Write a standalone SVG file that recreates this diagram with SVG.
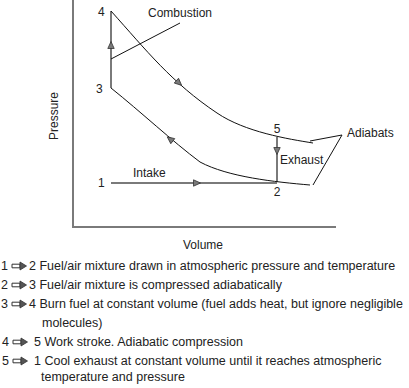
<svg xmlns="http://www.w3.org/2000/svg" xmlns:xlink="http://www.w3.org/1999/xlink" width="409" height="388" viewBox="0 0 409 388">
<style>
text{font-family:"Liberation Sans",Arial,sans-serif;font-size:12px;fill:#222}
#legend text{font-size:12.5px}
.axis{stroke:#7a7a7a;stroke-width:2;fill:none}
.thick{stroke:#7a7a7a;stroke-width:2;fill:none}
.thin{stroke:#111;stroke-width:1;fill:none}
.head{fill:#7a7a7a;stroke:#333;stroke-width:0.8}
.dbl{fill:#fff;stroke:#333;stroke-width:1}
.dblh{fill:#555;stroke:#333;stroke-width:0.8}
</style>
<defs>
<polygon id="tri" class="head" points="-3.5,-3.2 3.5,0 -3.5,3.2"/>
<g id="darr">
<path class="dbl" d="M0,-1.8 H8 V1.8 H0 Z"/>
<path class="dblh" d="M8,-4 L14.5,0 L8,4 Z"/>
</g>
</defs>
<rect width="409" height="388" fill="#fff"/>
<g id="axes">
<path class="axis" d="M73,0 V227 H336"/>
<text transform="translate(58,116) rotate(-90)" text-anchor="middle">Pressure</text>
<text x="203" y="249" text-anchor="middle">Volume</text>
</g>
<g id="connectors">
<path class="thick" d="M111,11 V88"/>
<path class="thick" d="M277,137 V182"/>
<path class="thick" d="M111,183 H277"/>
<path class="thin" d="M111,11 C146,50 172,83 217,113 C245,132 288,139 313,143"/>
<path class="thin" d="M111,88 C141,112 172,141 200,162 C228,177 275,182 310,185"/>
<path class="thin" d="M111,59 L180,23"/>
<path class="thin" d="M310,141 L342,135 L313,185"/>
<use xlink:href="#tri" transform="translate(111,45) rotate(-90)"/>
<use xlink:href="#tri" transform="translate(179,83) rotate(42)"/>
<use xlink:href="#tri" transform="translate(170,139) rotate(218)"/>
<use xlink:href="#tri" transform="translate(197,183)"/>
<use xlink:href="#tri" transform="translate(277,151) rotate(90)"/>
</g>
<g id="n4"><text x="98" y="16">4</text></g>
<g id="n3"><text x="96" y="93">3</text></g>
<g id="n5"><text x="277" y="133" text-anchor="middle">5</text></g>
<g id="n2"><text x="277" y="196" text-anchor="middle">2</text></g>
<g id="n1"><text x="98" y="187">1</text></g>
<g id="labels">
<text x="148" y="17">Combustion</text>
<text x="347" y="137">Adiabats</text>
<text x="280" y="164">Exhaust</text>
<text x="133" y="177">Intake</text>
</g>
<g id="legend">
<text x="1" y="270">1</text><use xlink:href="#darr" x="12" y="266"/><text x="29" y="270">2 Fuel/air mixture drawn in atmospheric pressure and temperature</text>
<text x="1" y="289">2</text><use xlink:href="#darr" x="12" y="285"/><text x="29" y="289">3 Fuel/air mixture is compressed adiabatically</text>
<text x="1" y="308">3</text><use xlink:href="#darr" x="12" y="304"/><text x="29" y="308">4 Burn fuel at constant volume (fuel adds heat, but ignore negligible</text>
<text x="42" y="327">molecules)</text>
<text x="2" y="346">4</text><use xlink:href="#darr" x="13" y="342"/><text x="34" y="346">5 Work stroke. Adiabatic compression</text>
<text x="2" y="365">5</text><use xlink:href="#darr" x="13" y="361"/><text x="34" y="365">1 Cool exhaust at constant volume until it reaches atmospheric</text>
<text x="41" y="381">temperature and pressure</text>
</g>
</svg>
